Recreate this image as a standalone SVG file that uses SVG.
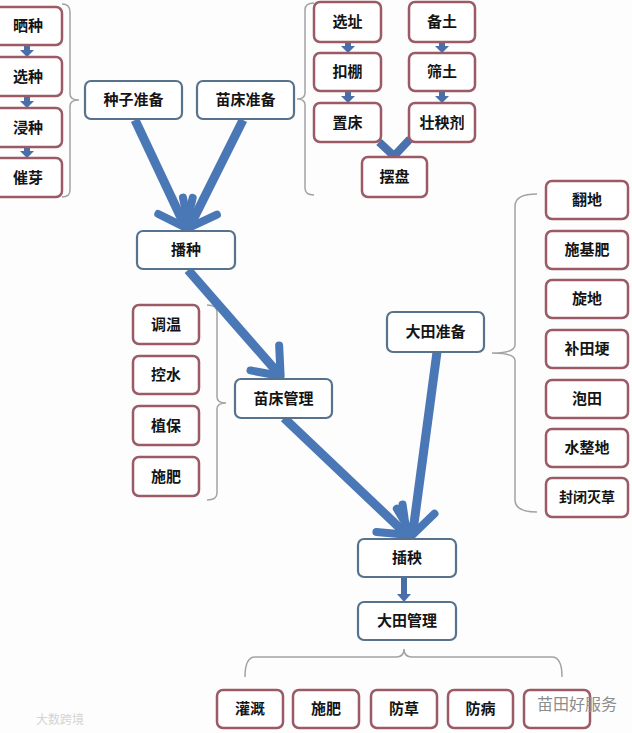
<svg xmlns="http://www.w3.org/2000/svg" width="632" height="733" viewBox="0 0 632 733">
<style>
  .rb { fill: #ffffff; stroke: #9b5b66; stroke-width: 2.5; }
  .bb { fill: #ffffff; stroke: #56728c; stroke-width: 2.2; }
  .t { font-family: "Noto Sans CJK SC", "Noto Sans", sans-serif; font-weight: bold; font-size: 15px; fill: #141414; text-anchor: middle; }
  .ts { font-size: 14px; }
  .br { fill: none; stroke: #a3a3a3; stroke-width: 1.5; }
  .big { fill: none; stroke: #4a78b6; stroke-width: 9; stroke-linecap: butt; }
  .sa { fill: #4a6fa8; }
  .wm { font-family: "Noto Sans CJK SC", "Noto Sans", sans-serif; font-size: 16px; fill: #8c8c8c; }
</style>
<defs>
  <marker id="chev" markerUnits="userSpaceOnUse" markerWidth="60" markerHeight="60" refX="-4" refY="0" orient="auto" overflow="visible">
    <path d="M -24 -19 L 0 0 L -24 19" fill="none" stroke="#4a78b6" stroke-width="8" stroke-linecap="round" stroke-linejoin="round"/>
  </marker>
</defs>
<rect width="632" height="733" fill="#fdfdfd"/>

<g id="brackets">
  <path class="br" d="M 62 4 Q 70 4 70 12 L 70 94 Q 70 100 79 100 Q 70 100 70 106 L 70 190 Q 70 197 62 197"/>
  <path class="br" d="M 314 3 Q 305 3 305 10 L 305 93 Q 305 99 297 99 Q 305 99 305 105 L 305 188 Q 305 195 314 195"/>
  <path class="br" d="M 207 305 Q 217 305 217 312 L 217 397 Q 217 403 226 403 Q 217 403 217 409 L 217 493 Q 217 500 207 500"/>
  <path class="br" d="M 537 194 Q 515 194 515 206 L 515 345 Q 515 353 492 353 Q 515 353 515 361 L 515 500 Q 515 512 537 512"/>
  <path class="br" d="M 245 677 Q 245 657 255 657 L 396 657 Q 404 657 404 649 Q 404 657 412 657 L 552 657 Q 562 657 562 677"/>
</g>

<g id="connectors">
  <path class="big" d="M 135 120 L 184 224" marker-end="url(#chev)"/>
  <path class="big" d="M 243 120 L 191 224" marker-end="url(#chev)"/>
  <path class="big" d="M 188 270 L 278 373" marker-end="url(#chev)"/>
  <path class="big" d="M 284 418 L 404 532" marker-end="url(#chev)"/>
  <path class="big" d="M 437 352 L 413 531" marker-end="url(#chev)"/>
  <polyline points="379,142 394,156 410,139" fill="none" stroke="#4a72ae" stroke-width="8" stroke-linejoin="miter"/>
  <polygon class="sa" points="24,45 30,45 30,50 34,50 27,57 20,50 24,50"/>
  <polygon class="sa" points="24,96 30,96 30,101 34,101 27,108 20,101 24,101"/>
  <polygon class="sa" points="24,147 30,147 30,151 34,151 27,158 20,151 24,151"/>
  <polygon class="sa" points="345,42 351,42 351,46 355,46 348,53 341,46 345,46"/>
  <polygon class="sa" points="345,91 351,91 351,96 355,96 348,103 341,96 345,96"/>
  <polygon class="sa" points="439,42 445,42 445,46 449,46 442,53 435,46 439,46"/>
  <polygon class="sa" points="439,91 445,91 445,96 449,96 442,103 435,96 439,96"/>
  <polygon class="sa" points="401,577 407,577 407,594 411,594 404,602 397,594 401,594"/>
</g>

<g id="n-shaizhong"><rect class="rb" x="-6" y="7" width="68" height="38" rx="6"/><text class="t" x="28" y="31">晒种</text></g>
<g id="n-xuanzhong"><rect class="rb" x="-6" y="57" width="68" height="39" rx="6"/><text class="t" x="28" y="82">选种</text></g>
<g id="n-jinzhong"><rect class="rb" x="-6" y="108" width="68" height="39" rx="6"/><text class="t" x="28" y="133">浸种</text></g>
<g id="n-cuiya"><rect class="rb" x="-6" y="158" width="68" height="39" rx="6"/><text class="t" x="28" y="183">催芽</text></g>

<g id="n-zhongzizhunbei"><rect class="bb" x="85" y="81" width="97" height="38" rx="6"/><text class="t" x="133.5" y="105">种子准备</text></g>
<g id="n-miaochuangzhunbei"><rect class="bb" x="197" y="81" width="97" height="38" rx="6"/><text class="t" x="245.5" y="105">苗床准备</text></g>

<g id="n-xuanzhi"><rect class="rb" x="314" y="2" width="67" height="40" rx="6"/><text class="t" x="347.5" y="27">选址</text></g>
<g id="n-koupeng"><rect class="rb" x="314" y="53" width="67" height="38" rx="6"/><text class="t" x="347.5" y="77">扣棚</text></g>
<g id="n-zhichuang"><rect class="rb" x="314" y="103" width="67" height="39" rx="6"/><text class="t" x="347.5" y="128">置床</text></g>
<g id="n-beitu"><rect class="rb" x="409" y="2" width="66" height="40" rx="6"/><text class="t" x="442" y="27">备土</text></g>
<g id="n-shaitu"><rect class="rb" x="409" y="53" width="66" height="38" rx="6"/><text class="t" x="442" y="77">筛土</text></g>
<g id="n-zhuangyangji"><rect class="rb" x="409" y="103" width="66" height="39" rx="6"/><text class="t" x="442" y="128">壮秧剂</text></g>
<g id="n-baipan"><rect class="rb" x="362" y="157" width="65" height="40" rx="6"/><text class="t" x="394.5" y="182">摆盘</text></g>

<g id="n-bozhong"><rect class="bb" x="137" y="231" width="98" height="38" rx="6"/><text class="t" x="186" y="255">播种</text></g>

<g id="n-tiaowen"><rect class="rb" x="133" y="305" width="66" height="39" rx="6"/><text class="t" x="166" y="330">调温</text></g>
<g id="n-kongshui"><rect class="rb" x="133" y="356" width="66" height="38" rx="6"/><text class="t" x="166" y="380">控水</text></g>
<g id="n-zhibao"><rect class="rb" x="133" y="406" width="66" height="39" rx="6"/><text class="t" x="166" y="431">植保</text></g>
<g id="n-shifei1"><rect class="rb" x="133" y="457" width="66" height="39" rx="6"/><text class="t" x="166" y="482">施肥</text></g>

<g id="n-miaochuangguanli"><rect class="bb" x="235" y="379" width="97" height="39" rx="6"/><text class="t" x="283.5" y="404">苗床管理</text></g>
<g id="n-datianzhunbei"><rect class="bb" x="387" y="312" width="97" height="40" rx="6"/><text class="t" x="435.5" y="337">大田准备</text></g>

<g id="n-fandi"><rect class="rb" x="546" y="181" width="82" height="38" rx="6"/><text class="t" x="587" y="205">翻地</text></g>
<g id="n-shijifei"><rect class="rb" x="546" y="231" width="82" height="38" rx="6"/><text class="t" x="587" y="255">施基肥</text></g>
<g id="n-xuandi"><rect class="rb" x="546" y="280" width="82" height="38" rx="6"/><text class="t" x="587" y="304">旋地</text></g>
<g id="n-butiangeng"><rect class="rb" x="546" y="330" width="82" height="38" rx="6"/><text class="t" x="587" y="354">补田埂</text></g>
<g id="n-paotian"><rect class="rb" x="546" y="380" width="82" height="38" rx="6"/><text class="t" x="587" y="404">泡田</text></g>
<g id="n-shuizhengdi"><rect class="rb" x="546" y="429" width="82" height="38" rx="6"/><text class="t" x="587" y="453">水整地</text></g>
<g id="n-fengbimiecao"><rect class="rb" x="546" y="478" width="82" height="39" rx="6"/><text class="t ts" x="587" y="502">封闭灭草</text></g>

<g id="n-chayang"><rect class="bb" x="358" y="539" width="98" height="38" rx="6"/><text class="t" x="407" y="563">插秧</text></g>
<g id="n-datianguanli"><rect class="bb" x="358" y="602" width="98" height="38" rx="6"/><text class="t" x="407" y="626">大田管理</text></g>

<g id="n-guangai"><rect class="rb" x="217" y="690" width="66" height="38" rx="6"/><text class="t" x="250" y="714">灌溉</text></g>
<g id="n-shifei2"><rect class="rb" x="293" y="690" width="66" height="38" rx="6"/><text class="t" x="326" y="714">施肥</text></g>
<g id="n-fangcao"><rect class="rb" x="371" y="690" width="66" height="38" rx="6"/><text class="t" x="404" y="714">防草</text></g>
<g id="n-fangbing"><rect class="rb" x="448" y="690" width="65" height="38" rx="6"/><text class="t" x="480.5" y="714">防病</text></g>
<g id="n-last"><rect class="rb" x="524" y="690" width="66" height="38" rx="6"/></g>

<g id="watermarks">
  <text class="wm" x="537" y="710">苗田好服务</text>
  <text class="wm" x="36" y="724" style="font-size:12px;fill:#d4d4d4">大数跨境</text>
</g>
</svg>
